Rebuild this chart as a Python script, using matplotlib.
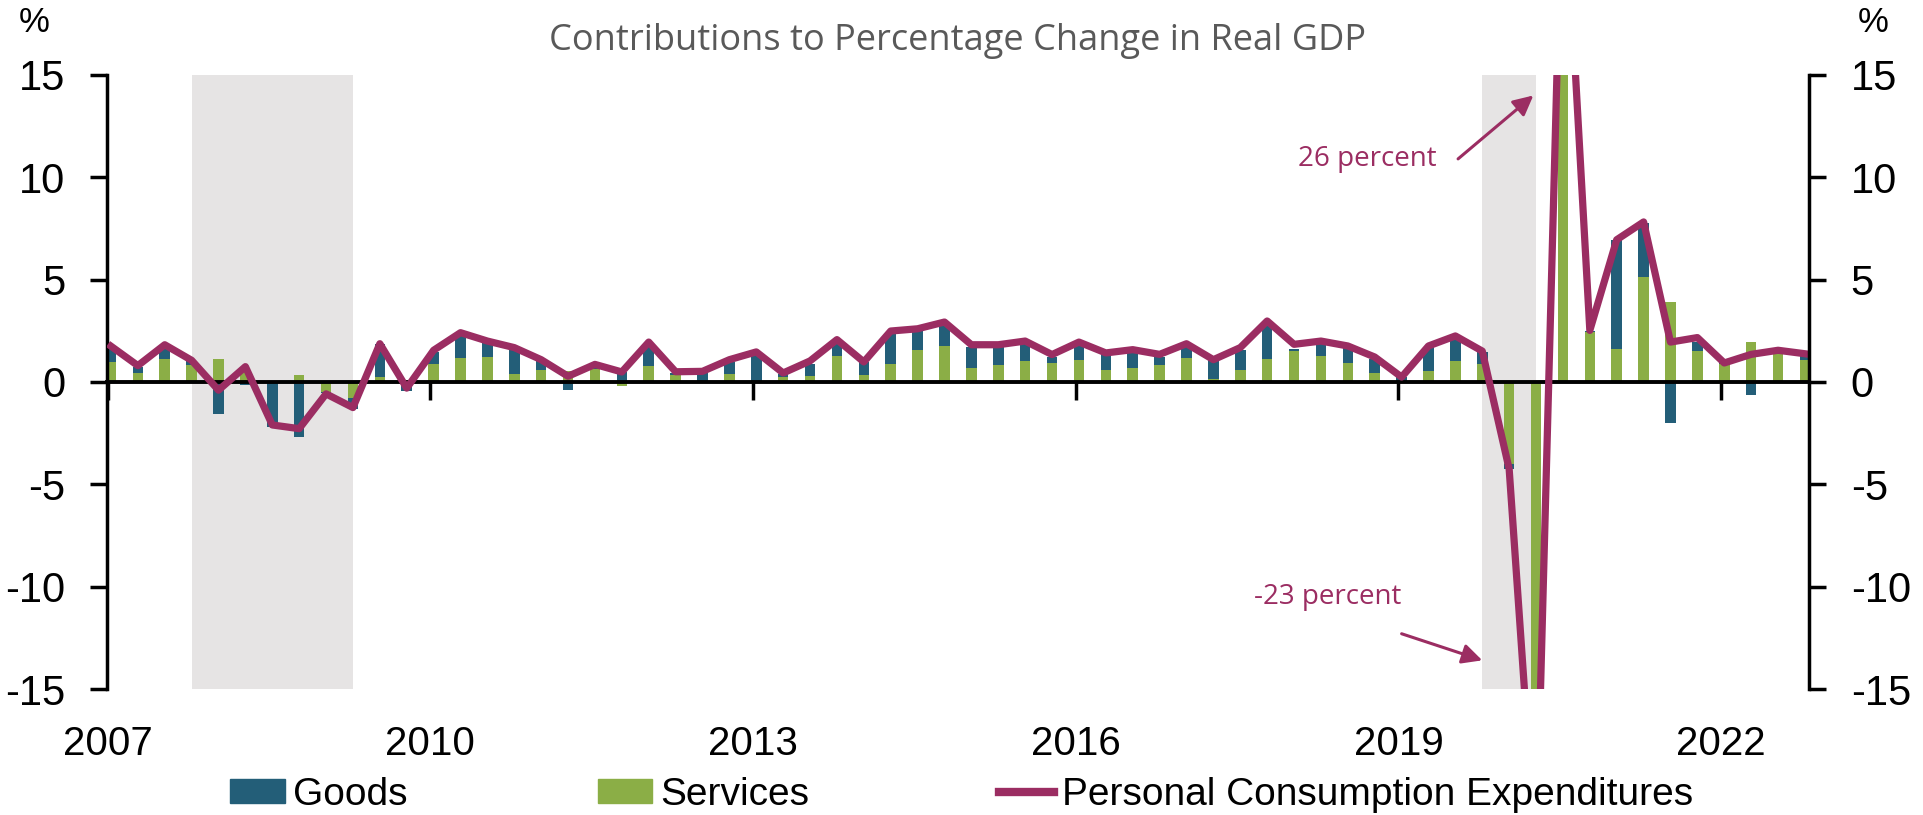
import matplotlib
matplotlib.use('Agg')
import matplotlib.pyplot as plt
from matplotlib.patches import Patch
from matplotlib.lines import Line2D
import numpy as np

plt.rcParams['font.family'] = ['Liberation Sans', 'DejaVu Sans']
plt.rcParams['axes.unicode_minus'] = False

# quarterly data 2007Q1 - 2022Q4, contributions in percentage points
years = list(range(2007, 2023, 3))
services = [0.98, 0.44, 1.14, 0.81, 1.12, 0.55, 0.05, 0.33, -0.50, -0.77,
            0.24, 0.10, 0.90, 1.17, 1.22, 0.37, 0.57, 0.54, 0.65, -0.20,
            0.77, 0.33, 0.05, 0.37, 0.05, 0.24, 0.29, 1.25, 0.36, 0.86,
            1.58, 1.76, 0.68, 0.85, 1.01, 0.94, 1.06, 0.57, 0.70, 0.81,
            1.17, 0.13, 0.57, 1.11, 1.51, 1.27, 0.93, 0.44, 0.05, 0.54,
            1.03, 0.90, -4.00, -22.30, 17.00, 2.44, 1.63, 5.13, 3.91, 1.51,
            0.86, 1.95, 1.38, 1.06]
goods = [0.73, 0.29, 0.60, 0.22, -1.55, -0.15, -2.20, -2.69, -0.05, -0.54,
         1.63, -0.45, 0.57, 1.19, 0.73, 1.18, 0.49, -0.37, 0.20, 0.49,
         1.10, 0.12, 0.41, 0.61, 1.33, 0.15, 0.61, 0.70, 0.62, 1.47,
         0.91, 1.09, 1.03, 0.86, 0.86, 0.28, 0.78, 0.81, 0.77, 0.41,
         0.54, 0.93, 0.98, 1.74, 0.12, 0.68, 0.78, 0.70, 0.17, 1.17,
         1.17, 0.57, -0.25, -0.90, 9.00, 0.05, 5.29, 2.64, -2.00, 0.44,
         0.05, -0.65, 0.09, 0.24]
pce = [1.75, 0.80, 1.82, 1.06, -0.40, 0.75, -2.10, -2.28, -0.58, -1.25,
       1.87, -0.30, 1.55, 2.41, 2.00, 1.68, 1.09, 0.28, 0.86, 0.49,
       1.95, 0.50, 0.52, 1.09, 1.47, 0.44, 1.03, 2.07, 0.98, 2.49,
       2.60, 2.93, 1.82, 1.82, 2.00, 1.34, 1.95, 1.42, 1.58, 1.35,
       1.87, 1.09, 1.68, 2.98, 1.84, 2.00, 1.76, 1.22, 0.24, 1.76,
       2.25, 1.51, -4.25, -23.20, 26.00, 2.52, 6.95, 7.82, 1.95, 2.17,
       0.93, 1.35, 1.55, 1.38]
recessions = [(3, 9), (51, 53)]  # quarter index spans

c_goods = '#235E78'
c_serv = '#8BAE46'
c_pce = '#9B2D62'

x = np.arange(len(pce))
serv = np.array(services)
gds = np.array(goods)

fig = plt.figure(figsize=(19.23, 8.15), dpi=100)
ax = fig.add_axes([0.0556, 0.1546, 0.8851, 0.7534])

for a, b in recessions:
    ax.axvspan(a, b, color='#E6E4E4', lw=0, zorder=0)

# services stacked first, goods stacked on top (separately by sign)
pos_base = np.where(serv > 0, serv, 0)
neg_base = np.where(serv < 0, serv, 0)
g_bottom = np.where(gds >= 0, pos_base, neg_base)
ax.bar(x, serv, width=0.39, color=c_serv, zorder=2)
ax.bar(x, gds, width=0.39, bottom=g_bottom, color=c_goods, zorder=2)
ax.plot(x, pce, color=c_pce, lw=5.2, zorder=3)

ax.set_xlim(-0.15, 63.15)
ax.set_ylim(-15, 15)
ax.set_yticks(range(-15, 16, 5))

# x axis drawn at zero
ax.spines['bottom'].set_position(('data', 0))
ax.spines['bottom'].set_linewidth(2.8)
ax.spines['top'].set_visible(False)
ax.spines['right'].set_visible(False)
ax.spines['left'].set_linewidth(2.5)
tick_pos = [(y - 2007) * 4 - 0.12 for y in years]
ax.set_xticks(tick_pos)
ax.set_xticklabels([])
ax.tick_params(axis='x', direction='out', length=13, width=2.5)
ax.tick_params(axis='y', direction='out', length=12, width=2.5,
               labelsize=30, pad=18)

sec = ax.secondary_xaxis(0)
sec.set_xticks(tick_pos)
sec.set_xticklabels([str(y) for y in years])
sec.tick_params(length=0, labelsize=29, pad=26)
sec.spines['bottom'].set_visible(False)

ax2 = ax.twinx()
ax2.set_ylim(-15, 15)
ax2.set_yticks(range(-15, 16, 5))
for s in ['top', 'left', 'bottom']:
    ax2.spines[s].set_visible(False)
ax2.spines['right'].set_linewidth(2.5)
ax2.tick_params(axis='y', direction='out', length=12, width=2.5,
                labelsize=30, pad=18)

fig.text(0.018, 0.972, '%', fontsize=25, ha='center', va='center')
fig.text(0.974, 0.972, '%', fontsize=25, ha='center', va='center')
fig.text(0.498, 0.950, 'Contributions to Percentage Change in Real GDP',
         fontsize=26, color='#595959', ha='center', va='center',
         family='Open Sans')

ax.text(49.3, 10.9, '26 percent', color=c_pce, fontsize=20,
        family='Open Sans', ha='right', va='center')
ax.annotate('', xy=(52.9, 14.0), xytext=(50.1, 10.9),
            arrowprops=dict(arrowstyle='-|>', color=c_pce, lw=2.2,
                            mutation_scale=30, shrinkA=0, shrinkB=0))
ax.text(48.0, -10.5, '-23 percent', color=c_pce, fontsize=20,
        family='Open Sans', ha='right', va='center', zorder=5)
ax.annotate('', xy=(51.0, -13.6), xytext=(48.0, -12.3),
            arrowprops=dict(arrowstyle='-|>', color=c_pce, lw=2.2,
                            mutation_scale=30, shrinkA=0, shrinkB=0))

handles = [Patch(color=c_goods), Patch(color=c_serv),
           Line2D([], [], color=c_pce, lw=6)]
labels = ['Goods', 'Services', 'Personal Consumption Expenditures']
fig.legend(handles, labels, loc='center',
           bbox_to_anchor=(0.500, 0.025), ncol=3, frameon=False, fontsize=28,
           handlelength=1.4, handleheight=0.6, handletextpad=0.2,
           columnspacing=4.9, borderaxespad=0)

fig.savefig('out.png', dpi=100)
